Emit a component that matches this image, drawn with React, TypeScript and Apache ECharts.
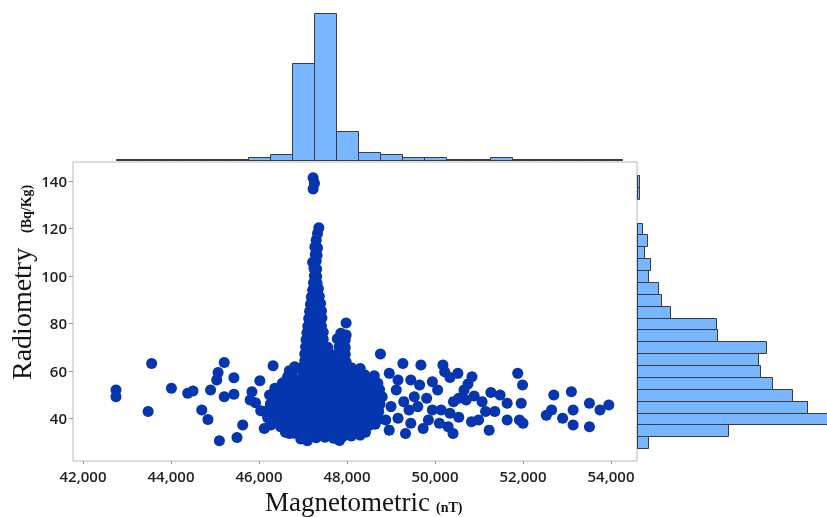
import React, { useEffect, useRef } from 'react';
import * as echarts from 'echarts';

// ---------- axis ticks / extents ----------
const magTicks = [42000, 44000, 46000, 48000, 50000, 52000, 54000];
const radTicks = [40, 60, 80, 100, 120, 140];
const magExtent = [41773, 54591];
const radExtent = [22.1, 148];

// ---------- marginal histogram of Magnetometric (bin centres, counts) ----------
const magBinCenters = [43000, 43500, 44000, 44500, 45000, 45500, 46000, 46500, 47000, 47500, 48000, 48500, 49000, 49500, 50000, 50500, 51000, 51500, 52000, 52500, 53000, 53500, 54000];
const magBinCounts = [5, 5, 5, 5, 10, 10, 19, 33, 465, 700, 142, 43, 33, 19, 19, 7, 7, 19, 5, 5, 5, 5, 5];
const magBinWidth = 500;

// ---------- marginal histogram of Radiometry ----------
const radBinCenters = [30, 35, 40, 45, 50, 55, 60, 65, 70, 75, 80, 85, 90, 95, 100, 105, 110, 115, 120, 125, 130, 135, 140];
const radBinCounts = [11, 91, 190, 170, 155, 135, 123, 121, 129, 80, 79, 33, 24, 21, 11, 13, 7, 10, 5, 0, 0, 2, 2];
const radBinWidth = 5;

// ---------- scatter: dense core (Magnetometric nT, Radiometry Bq/Kg) ----------
const coreLow: [number, number][] = [
  [46950, 31.4], [47100, 30.6], [47300, 31.9], [47500, 32.1], [47700, 31.7], [47830, 30.7], [47900, 32.3], [48100, 32.6], [48300, 33.0],
  [46600, 34.2], [46800, 33.8], [47000, 34.3], [47200, 33.9], [47400, 34.4], [47600, 34.0], [47800, 34.5], [48000, 34.1], [48200, 34.6], [48420, 34.2],
  [46270, 37.3], [46500, 36.8], [46700, 37.4], [46900, 37.0], [47100, 37.5], [47300, 37.1], [47500, 37.6], [47700, 37.2], [47900, 37.7], [48100, 37.0], [48300, 37.5], [48500, 37.1], [48640, 37.6],
  [46200, 40.2], [46400, 39.8], [46600, 40.4], [46800, 39.9], [47000, 40.5], [47200, 40.0], [47400, 40.3], [47600, 39.8], [47800, 40.4], [48000, 40.1], [48200, 40.6], [48400, 40.0], [48600, 40.4], [48720, 39.8],
  [46170, 43.2], [46300, 42.8], [46500, 43.4], [46700, 42.9], [46900, 43.5], [47100, 43.0], [47300, 43.3], [47500, 42.8], [47700, 43.4], [47900, 43.1], [48100, 43.6], [48300, 43.0], [48500, 43.4], [48720, 42.9],
  [46260, 46.1], [46400, 45.8], [46600, 46.4], [46800, 45.9], [47000, 46.3], [47200, 45.8], [47400, 46.4], [47600, 46.0], [47800, 46.5], [48000, 46.1], [48200, 46.3], [48400, 45.8], [48600, 46.4], [48750, 46.0],
];
const coreHigh: [number, number][] = [
  [46340, 49.2], [46500, 48.8], [46700, 49.4], [46900, 48.9], [47100, 49.3], [47300, 48.8], [47500, 49.4], [47700, 49.0], [47900, 49.5], [48100, 49.1], [48300, 49.3], [48500, 48.8], [48700, 49.4],
  [46430, 52.1], [46600, 51.8], [46800, 52.4], [47000, 51.9], [47200, 52.3], [47400, 51.8], [47600, 52.4], [47800, 52.0], [48000, 52.5], [48200, 52.1], [48400, 52.3], [48600, 51.8], [48740, 52.2],
  [46560, 55.2], [46700, 54.8], [46900, 55.4], [47100, 54.9], [47300, 55.3], [47500, 54.8], [47700, 55.4], [47900, 55.0], [48100, 55.5], [48300, 55.1], [48500, 55.3], [48700, 54.8],
  [46760, 58.1], [47000, 57.8], [47200, 58.3], [47400, 57.9], [47600, 58.4], [47800, 58.0], [48000, 58.3], [48200, 57.8], [48400, 58.4], [48620, 58.0],
  [46920, 61.2], [47100, 60.8], [47300, 61.4], [47500, 60.9], [47700, 61.3], [47900, 60.8], [48100, 61.4], [48300, 61.0],
  [47040, 64.2], [47200, 63.8], [47400, 64.4], [47600, 63.9], [47800, 64.3], [47980, 63.8],
  [47040, 67.2], [47250, 66.8], [47450, 67.4], [47650, 66.9], [47850, 67.3], [47960, 67.0],
  [47060, 70.1], [47200, 69.8], [47380, 70.4], [47560, 70.0], [47820, 70.2], [47960, 69.9],
  [47070, 73.2], [47260, 72.8], [47460, 73.4], [47780, 73.6], [47960, 73.0],
  [47090, 76.1], [47280, 75.8], [47460, 76.3], [47860, 75.9], [47980, 75.2],
];
// ---------- scatter: the narrow spike and its outliers ----------
const spike: [number, number][] = [
  [47110, 78.8], [47260, 79.2], [47420, 78.9], [47980, 80.2],
  [47130, 82.1], [47280, 81.8], [47430, 82.3],
  [47150, 85.2], [47300, 84.8], [47420, 85.3],
  [47170, 88.1], [47310, 87.9], [47400, 88.4],
  [47190, 91.2], [47300, 90.8], [47370, 91.5],
  [47220, 94.1], [47310, 93.8], [47350, 94.6],
  [47240, 97.2], [47320, 96.9],
  [47260, 100.1], [47310, 99.8],
  [47250, 103.2], [47310, 102.8],
  [47220, 105.8], [47300, 106.3],
  [47280, 109.1], [47320, 108.7],
  [47270, 112.2], [47330, 111.8],
  [47300, 115.1], [47330, 117.9], [47360, 120.3],
  [47230, 141.4], [47260, 139.1], [47230, 136.6],
];
// ---------- scatter: scattered points left of the core ----------
const leftPoints: [number, number][] = [
  [42750, 52.0], [42750, 49.2], [43560, 63.2], [43480, 42.9], [44010, 52.7], [44380, 50.6], [44500, 51.6],
  [44700, 43.6], [44840, 39.6], [45100, 30.6], [45500, 32.0], [45210, 63.6], [45070, 59.4], [45040, 56.2],
  [44900, 52.0], [45210, 49.2], [45430, 50.2], [45430, 57.2], [45630, 37.3], [45840, 51.3], [45800, 47.8],
  [45920, 46.6], [46020, 55.9], [46040, 43.3], [46120, 35.8], [46320, 62.2], [46690, 60.1],
  [46240, 49.9], [46360, 52.7], [46530, 54.8], [46650, 57.6], [46810, 61.8], [46200, 40.8], [46330, 45.0],
  [46490, 36.5], [46690, 33.7],
];
// ---------- scatter: scattered points right of the core ----------
const rightPoints: [number, number][] = [
  [48760, 67.2], [49270, 63.2], [49680, 62.5], [50180, 62.5], [50220, 59.7], [50340, 57.3], [50520, 59.0],
  [50750, 54.5], [50840, 57.6], [50660, 52.0], [51880, 59.0], [51990, 54.1], [51960, 46.4], [51920, 39.4],
  [52000, 38.0], [52700, 49.9], [52650, 43.6], [52530, 41.4], [53100, 51.3], [53140, 43.6], [52900, 40.1],
  [53140, 37.3], [53510, 46.4], [53510, 36.5], [53750, 43.6], [53950, 45.7], [51230, 35.1], [50990, 39.4],
  [50830, 38.6], [50410, 33.7], [50540, 40.5], [50340, 42.2], [50540, 48.5], [50710, 47.8], [50890, 49.5],
  [51070, 47.1], [51270, 50.9], [51480, 49.9], [51640, 46.4], [51360, 42.9], [51640, 39.4], [51150, 42.9],
  [48960, 59.0], [49160, 56.2], [49450, 56.2], [49650, 54.1], [49940, 55.5], [50060, 52.0], [49810, 48.5],
  [49530, 49.2], [49290, 47.1], [49120, 52.0], [49410, 43.6], [49450, 38.0], [49330, 33.7], [49160, 40.1],
  [48960, 35.1], [49000, 45.0], [49940, 43.6], [49850, 39.4], [50100, 38.0], [50140, 43.6], [48880, 39.4],
  [48800, 49.2], [49610, 45.0], [50300, 36.5], [50420, 47.1], [49730, 35.8],
];

const tickFont = { fontFamily: '"Open Sans", sans-serif', fontWeight: 600, fontSize: 15, color: '#1e1e1e' };
const HIST_FILL = '#78b7ff';
const HIST_STROKE = '#3a3a3a';
const DOT = '#0536b0';
const SERIF = '"Liberation Serif", "DejaVu Serif", serif';

export default function App() {
  const ref = useRef<HTMLDivElement>(null);
  useEffect(() => {
    if (!ref.current) return;
    const chart = echarts.init(ref.current, undefined, { renderer: 'svg' });
    const scatterData = [...coreLow, ...coreHigh, ...spike, ...leftPoints, ...rightPoints];
    const magHist = magBinCenters.map((c, i) => [c, magBinCounts[i]]);
    const radHist = radBinCenters.map((c, i) => [radBinCounts[i], c]).filter((d) => d[0] > 0);

    const option: any = {
      animation: false,
      grid: [
        { left: 73, top: 162, width: 564, height: 299, show: true, borderColor: '#b8b8b8', borderWidth: 1, backgroundColor: 'transparent' },
        { left: 73, top: 13, width: 564, height: 148 },
        { left: 637, top: 162, width: 190, height: 299 },
      ],
      xAxis: [
        {
          gridIndex: 0, type: 'value', min: magExtent[0], max: magExtent[1],
          minInterval: 2000, maxInterval: 2000,
          axisLine: { show: false }, splitLine: { show: false },
          axisTick: { show: true, customValues: magTicks, length: 3, lineStyle: { color: '#9a9a9a' } },
          axisLabel: {
            customValues: magTicks, margin: 7, ...tickFont,
            formatter: (v: number) => (magTicks.includes(v) ? v.toLocaleString('en-US') : ''),
          },
        },
        { gridIndex: 1, type: 'value', min: magExtent[0], max: magExtent[1], show: false },
        { gridIndex: 2, type: 'value', min: 0, max: 190, show: false },
      ],
      yAxis: [
        {
          gridIndex: 0, type: 'value', min: radExtent[0], max: radExtent[1],
          minInterval: 20, maxInterval: 20,
          axisLine: { show: false }, splitLine: { show: false },
          axisTick: { show: true, customValues: radTicks, length: 4, lineStyle: { color: '#9a9a9a' } },
          axisLabel: {
            customValues: radTicks, margin: 6, ...tickFont,
            formatter: (v: number) => (radTicks.includes(v) ? String(v) : ''),
          },
        },
        { gridIndex: 1, type: 'value', min: 0, max: 700, show: false },
        { gridIndex: 2, type: 'value', min: radExtent[0], max: radExtent[1], show: false },
      ],
      series: [
        {
          type: 'custom', xAxisIndex: 1, yAxisIndex: 1, data: magHist,
          renderItem: (params: any, api: any) => {
            const c = api.value(0);
            const n = api.value(1);
            const p0 = api.coord([c - magBinWidth / 2, 0]);
            const p1 = api.coord([c + magBinWidth / 2, n]);
            const x0 = Math.round(p0[0]) + 0.5;
            const x1 = Math.round(p1[0]) + 0.5;
            const yb = Math.round(p0[1]) - 0.5;
            const yt = Math.min(Math.round(p1[1]) + 0.5, yb - 1);
            return {
              type: 'rect',
              shape: { x: x0, y: yt, width: x1 - x0, height: yb - yt },
              style: { fill: HIST_FILL, stroke: HIST_STROKE, lineWidth: 1 },
            };
          },
        },
        {
          type: 'custom', xAxisIndex: 2, yAxisIndex: 2, data: radHist,
          renderItem: (params: any, api: any) => {
            const n = api.value(0);
            const c = api.value(1);
            const p0 = api.coord([0, c - radBinWidth / 2]);
            const p1 = api.coord([n, c + radBinWidth / 2]);
            const x0 = Math.round(p0[0]) + 0.5;
            const x1 = Math.max(Math.round(p1[0]) + 0.5, x0 + 1);
            const y0 = Math.round(p1[1]) + 0.5;
            const y1 = Math.round(p0[1]) + 0.5;
            return {
              type: 'rect',
              shape: { x: x0, y: y0, width: x1 - x0, height: y1 - y0 },
              style: { fill: HIST_FILL, stroke: HIST_STROKE, lineWidth: 1 },
            };
          },
        },
        {
          type: 'scatter', xAxisIndex: 0, yAxisIndex: 0, data: scatterData,
          symbol: 'circle', symbolSize: 11,
          itemStyle: { color: DOT, opacity: 1 },
          z: 3,
        },
      ],
      graphic: [
        {
          type: 'text', x: 265, y: 502,
          style: { text: 'Magnetometric', fontSize: 27, fontFamily: SERIF, fill: '#141414', align: 'left', verticalAlign: 'middle' },
        },
        {
          type: 'text', x: 436, y: 507,
          style: { text: '(nT)', fontSize: 14, fontWeight: 'bold', fontFamily: SERIF, fill: '#141414', align: 'left', verticalAlign: 'middle' },
        },
        {
          type: 'text', x: 21.5, y: 380, rotation: Math.PI / 2,
          style: { text: 'Radiometry', fontSize: 28, fontFamily: SERIF, fill: '#141414', align: 'left', verticalAlign: 'middle' },
        },
        {
          type: 'text', x: 26, y: 233, rotation: Math.PI / 2,
          style: { text: '(Bq/Kg)', fontSize: 14, fontWeight: 'bold', fontFamily: SERIF, fill: '#141414', align: 'left', verticalAlign: 'middle' },
        },
      ],
    };
    chart.setOption(option);
    return () => chart.dispose();
  }, []);
  return <div ref={ref} style={{ position: 'fixed', left: 0, top: 0, width: 827, height: 517 }} />;
}
